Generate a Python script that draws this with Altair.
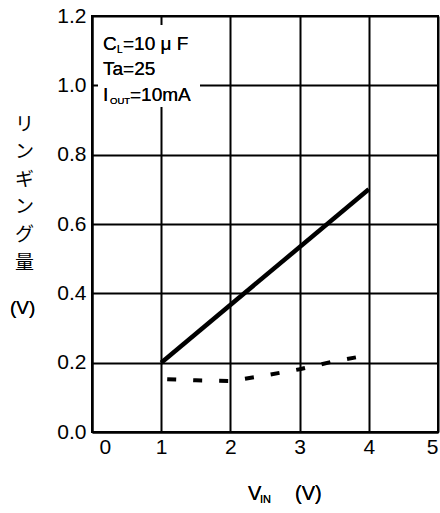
import altair as alt
import pandas as pd

# Ringing amplitude vs. input voltage
vin_solid = [1, 4]
ringing_solid = [0.2, 0.7]

vin_dashed = [1, 1.5, 2, 2.5, 3, 3.5, 4]
ringing_dashed = [0.153, 0.149, 0.147, 0.163, 0.181, 0.204, 0.222]

x_ticks = [0, 1, 2, 3, 4, 5]
y_ticks = [0.0, 0.2, 0.4, 0.6, 0.8, 1.0, 1.2]

solid_df = pd.DataFrame({"vin": vin_solid, "ringing": ringing_solid})
dashed_df = pd.DataFrame({"vin": vin_dashed, "ringing": ringing_dashed})

FONT = "Liberation Sans"
JP_FONT = "Noto Sans CJK JP"

x_enc = alt.X(
    "vin:Q",
    scale=alt.Scale(domain=[0, 5], nice=False, zero=False),
    axis=alt.Axis(
        values=x_ticks,
        format="d",
        title=None,
        grid=True,
        ticks=False,
        labelPadding=4,
        labelOffset={"condition": {"test": "datum.value == 0", "value": 7}, "value": 0},
    ),
)
y_enc = alt.Y(
    "ringing:Q",
    scale=alt.Scale(domain=[0, 1.2], nice=False, zero=False),
    axis=alt.Axis(
        values=y_ticks,
        format=".1f",
        grid=True,
        ticks=False,
        labelPadding=6,
        title=["リ", "ン", "ギ", "ン", "グ", "量"],
        titleAngle=0,
        titleAlign="center",
        titleBaseline="top",
        titleX=-68,
        titleY=99,
        titleLineHeight=27.6,
        titleFont=JP_FONT,
        titleFontSize=19,
        titleFontWeight="normal",
        titleColor="black",
    ),
)

# white panel behind the condition text
panel = alt.Chart(solid_df).mark_rect(color="white").encode(
    x=alt.value(6), x2=alt.value(108), y=alt.value(9), y2=alt.value(91)
)

solid = alt.Chart(solid_df).mark_line(color="black", strokeWidth=4.5).encode(
    x=x_enc, y=y_enc
)
dashed = alt.Chart(dashed_df).mark_line(
    color="black", strokeWidth=4, strokeDash=[9, 17], strokeDashOffset=20, strokeCap="butt"
).encode(x="vin:Q", y="ringing:Q")


def label(text, x, y, size=19, font=FONT):
    return alt.Chart(solid_df).mark_text(
        text=text, align="left", baseline="alphabetic", font=font, fontSize=size, color="black"
    ).encode(x=alt.value(x), y=alt.value(y))


texts = [
    label("C", 11, 34),
    label("L", 25, 37, size=10),
    label("=10 μ F", 31, 34),
    label("Ta=25", 11, 59),
    label("I", 11, 85),
    label("OUT", 18, 88, size=9.5),
    label("=10mA", 38, 85),
    label("V", 156, 484, size=20),
    label("IN", 168, 487, size=11),
    label("(V)", 203, 484, size=20),
    label("(V)", -82, 298),
]

chart = alt.layer(panel, solid, dashed, *texts).properties(
    width=346,
    height=416,
    autosize=alt.AutoSizeParams(type="none"),
    padding={"left": 92, "top": 16, "right": 2, "bottom": 81},
).configure_view(
    stroke="black", strokeWidth=2
).configure_axis(
    domainColor="black",
    domainWidth=2,
    gridColor="black",
    gridWidth=2,
    gridOpacity=1,
    labelFont=FONT,
    labelFontSize=21,
    labelColor="black",
)

chart.save("out.html", embed_options={"renderer": "svg", "actions": False})
